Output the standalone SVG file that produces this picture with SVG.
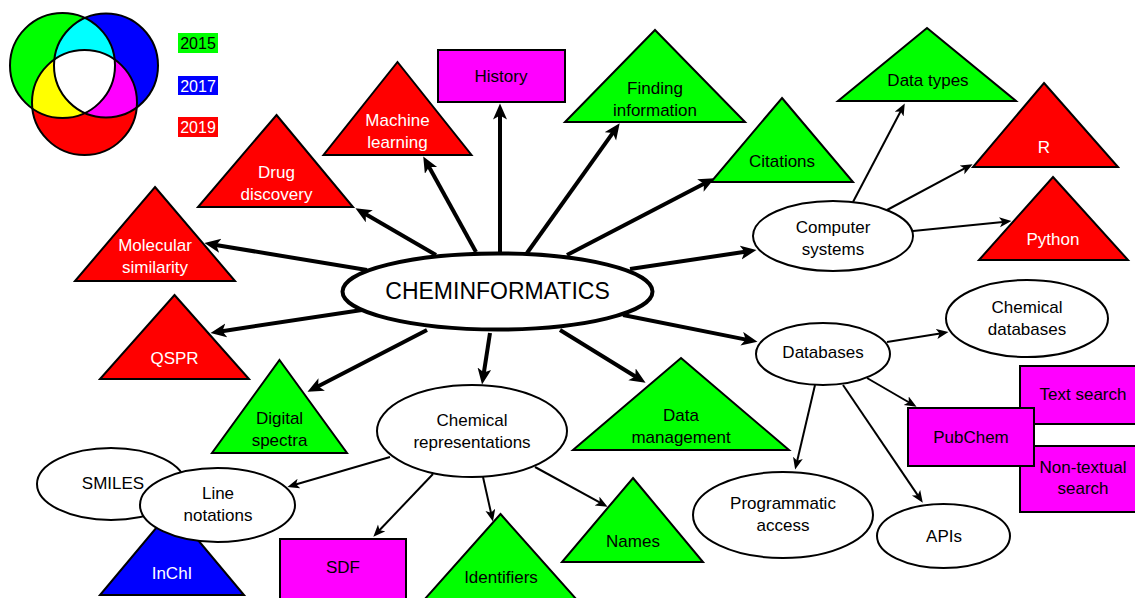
<svg xmlns="http://www.w3.org/2000/svg" width="1135" height="598" viewBox="0 0 1135 598">
<style>
text{font-family:"Liberation Sans",Arial,sans-serif;font-size:17px;text-anchor:middle;fill:#000}
.w{fill:#fff}
.lg{font-size:16px}
.big{font-size:23px}
.tri,.box,.ell{stroke:#000;stroke-width:2}
.g{fill:#00ff00}.r{fill:#ff0000}.m{fill:#ff00ff}.b{fill:#0000ff}
.ell{fill:#fff}
.thick{stroke:#000;stroke-width:4;fill:none;marker-end:url(#ah)}
.thin{stroke:#000;stroke-width:2;fill:none;marker-end:url(#as)}
</style>
<defs>
<marker id="ah" markerUnits="userSpaceOnUse" markerWidth="18" markerHeight="16" refX="4.5" refY="7" orient="auto"><path d="M0,0 L16,7 L0,14 L4,7 Z" fill="#000"/></marker>
<marker id="as" markerUnits="userSpaceOnUse" markerWidth="14" markerHeight="12" refX="3.5" refY="5" orient="auto"><path d="M0,0 L12,5 L0,10 L3,5 Z" fill="#000"/></marker>
<clipPath id="cg"><circle cx="62.5" cy="65.5" r="52.5"/></clipPath>
<clipPath id="cb"><circle cx="106" cy="65.5" r="52"/></clipPath>
</defs>
<rect width="1135" height="598" fill="#fff"/>

<g id="venn">
<circle cx="62.5" cy="65.5" r="52.5" fill="#00ff00"/>
<circle cx="106" cy="65.5" r="52" fill="#0000ff"/>
<circle cx="84.5" cy="102.5" r="52.5" fill="#ff0000"/>
<circle cx="106" cy="65.5" r="52" fill="#00ffff" clip-path="url(#cg)"/>
<circle cx="84.5" cy="102.5" r="52.5" fill="#ffff00" clip-path="url(#cg)"/>
<circle cx="84.5" cy="102.5" r="52.5" fill="#ff00ff" clip-path="url(#cb)"/>
<g clip-path="url(#cg)"><circle cx="84.5" cy="102.5" r="52.5" fill="#fff" clip-path="url(#cb)"/></g>
<circle cx="62.5" cy="65.5" r="52.5" fill="none" stroke="#000" stroke-width="2"/>
<circle cx="106" cy="65.5" r="52" fill="none" stroke="#000" stroke-width="2"/>
<circle cx="84.5" cy="102.5" r="52.5" fill="none" stroke="#000" stroke-width="2"/>
</g>
<g id="legend">
<rect x="178" y="33" width="40" height="20" fill="#00ff00"/><text class="lg" x="198" y="49">2015</text>
<rect x="178" y="76" width="40" height="19" fill="#0000ff"/><text class="lg w" x="198" y="91.5">2017</text>
<rect x="178" y="117" width="40" height="20" fill="#ff0000"/><text class="lg w" x="198" y="133">2019</text>
</g>

<g id="history"><rect class="box m" x="438" y="50" width="127" height="52"/><text x="501" y="82">History</text></g>
<g id="machine-learning"><polygon class="tri r" points="397.5,62 471.5,155 323.5,155"/><text class="w" x="397.5" y="126">Machine</text><text class="w" x="397.5" y="148">learning</text></g>
<g id="finding-information"><polygon class="tri g" points="655,30 745,122 565,122"/><text x="655" y="94">Finding</text><text x="655" y="116">information</text></g>
<g id="data-types"><polygon class="tri g" points="927,28 1016,101 838,101"/><text x="928" y="86">Data types</text></g>
<g id="citations"><polygon class="tri g" points="782,98 853,182 711,182"/><text x="782" y="167">Citations</text></g>
<g id="r"><polygon class="tri r" points="1044,83 1118,167 973,167"/><text class="w" x="1044" y="153">R</text></g>
<g id="python"><polygon class="tri r" points="1053,177 1128,260 979,260"/><text class="w" x="1053" y="245">Python</text></g>
<g id="drug-discovery"><polygon class="tri r" points="276.5,115 353,207 198,207"/><text class="w" x="276.5" y="178">Drug</text><text class="w" x="276.5" y="200">discovery</text></g>
<g id="molecular-similarity"><polygon class="tri r" points="155,187 235,281 75,281"/><text class="w" x="155" y="251">Molecular</text><text class="w" x="155" y="273">similarity</text></g>
<g id="qspr"><polygon class="tri r" points="174.5,295 249,379 100,379"/><text class="w" x="174.5" y="364">QSPR</text></g>
<g id="digital-spectra"><polygon class="tri g" points="279.5,360 347,453 212,453"/><text x="279.5" y="424">Digital</text><text x="279.5" y="446">spectra</text></g>
<g id="data-management"><polygon class="tri g" points="681,358 789,450 573,450"/><text x="681" y="421">Data</text><text x="681" y="443">management</text></g>
<g id="names"><polygon class="tri g" points="633,478 703,562 562,562"/><text x="633" y="547">Names</text></g>
<g id="identifiers"><polygon class="tri g" points="500.5,514 577,600 424,600"/><text x="501" y="583">Identifiers</text></g>
<g id="sdf"><rect class="box m" x="280" y="539" width="126" height="70"/><text x="343" y="573">SDF</text></g>
<g id="smiles"><ellipse class="ell" cx="111" cy="484" rx="74" ry="36"/><text x="113" y="489">SMILES</text></g>
<g id="inchi"><polygon class="tri b" points="172,509 244,595 100,595"/><text class="w" x="172" y="579">InChI</text></g>
<g id="line-notations"><ellipse class="ell" cx="217.5" cy="505" rx="77.5" ry="37"/><text x="218" y="499">Line</text><text x="218" y="521">notations</text></g>
<g id="chemical-representations"><ellipse class="ell" cx="472" cy="431" rx="95" ry="46"/><text x="472" y="426">Chemical</text><text x="472" y="448">representations</text></g>
<g id="computer-systems"><ellipse class="ell" cx="833" cy="236" rx="80" ry="35"/><text x="833" y="233">Computer</text><text x="833" y="255">systems</text></g>
<g id="databases"><ellipse class="ell" cx="823" cy="354" rx="67" ry="31"/><text x="823" y="358">Databases</text></g>
<g id="chemical-databases"><ellipse class="ell" cx="1027" cy="318.5" rx="81" ry="38.5"/><text x="1027" y="313">Chemical</text><text x="1027" y="335">databases</text></g>
<g id="text-search"><rect class="box m" x="1020" y="366" width="130" height="58"/><text x="1083" y="400">Text search</text></g>
<g id="non-textual-search"><rect class="box m" x="1020" y="446" width="130" height="66"/><text x="1083" y="473">Non-textual</text><text x="1083" y="494">search</text></g>
<g id="pubchem"><rect class="box m" x="908" y="408" width="126" height="58"/><text x="971" y="443">PubChem</text></g>
<g id="programmatic-access"><ellipse class="ell" cx="783" cy="515" rx="90" ry="43"/><text x="783" y="509">Programmatic</text><text x="783" y="531">access</text></g>
<g id="apis"><ellipse class="ell" cx="943.5" cy="536" rx="66.5" ry="32"/><text x="944" y="542">APIs</text></g>
<g id="cheminformatics"><ellipse cx="497.5" cy="291.5" rx="155" ry="38" fill="#fff" stroke="#000" stroke-width="4"/><text class="big" x="497.5" y="299">CHEMINFORMATICS</text></g>

<g id="connectors">
<line class="thick" x1="367" y1="270" x2="215.8" y2="245"/>
<line class="thick" x1="436" y1="255" x2="365.4" y2="214"/>
<line class="thick" x1="476" y1="252" x2="428.8" y2="166.5"/>
<line class="thick" x1="500" y1="253" x2="500" y2="115"/>
<line class="thick" x1="527" y1="253" x2="613" y2="132.7"/>
<line class="thick" x1="567" y1="255" x2="704.4" y2="183.5"/>
<line class="thick" x1="630" y1="269" x2="745.1" y2="251.8"/>
<line class="thick" x1="623" y1="315" x2="746.2" y2="339.6"/>
<line class="thick" x1="560" y1="330" x2="635.8" y2="376.7"/>
<line class="thick" x1="490" y1="333" x2="483.8" y2="373.1"/>
<line class="thick" x1="427" y1="330" x2="317.7" y2="386.5"/>
<line class="thick" x1="362" y1="310" x2="221.9" y2="331.2"/>
<line class="thin" x1="853" y1="202" x2="900.8" y2="111"/>
<line class="thin" x1="887" y1="210" x2="965.1" y2="168.2"/>
<line class="thin" x1="913" y1="231" x2="1003" y2="221.9"/>
<line class="thin" x1="887" y1="342" x2="940.1" y2="333.4"/>
<line class="thin" x1="867" y1="378" x2="909.2" y2="402.5"/>
<line class="thin" x1="815" y1="385" x2="797.1" y2="461.2"/>
<line class="thin" x1="843" y1="385" x2="918" y2="495.6"/>
<line class="thin" x1="390" y1="457" x2="295.6" y2="484.5"/>
<line class="thin" x1="433" y1="474" x2="379.2" y2="530.5"/>
<line class="thin" x1="483" y1="477" x2="491.1" y2="513.2"/>
<line class="thin" x1="535" y1="467" x2="600.1" y2="502.7"/>
</g>
</svg>
